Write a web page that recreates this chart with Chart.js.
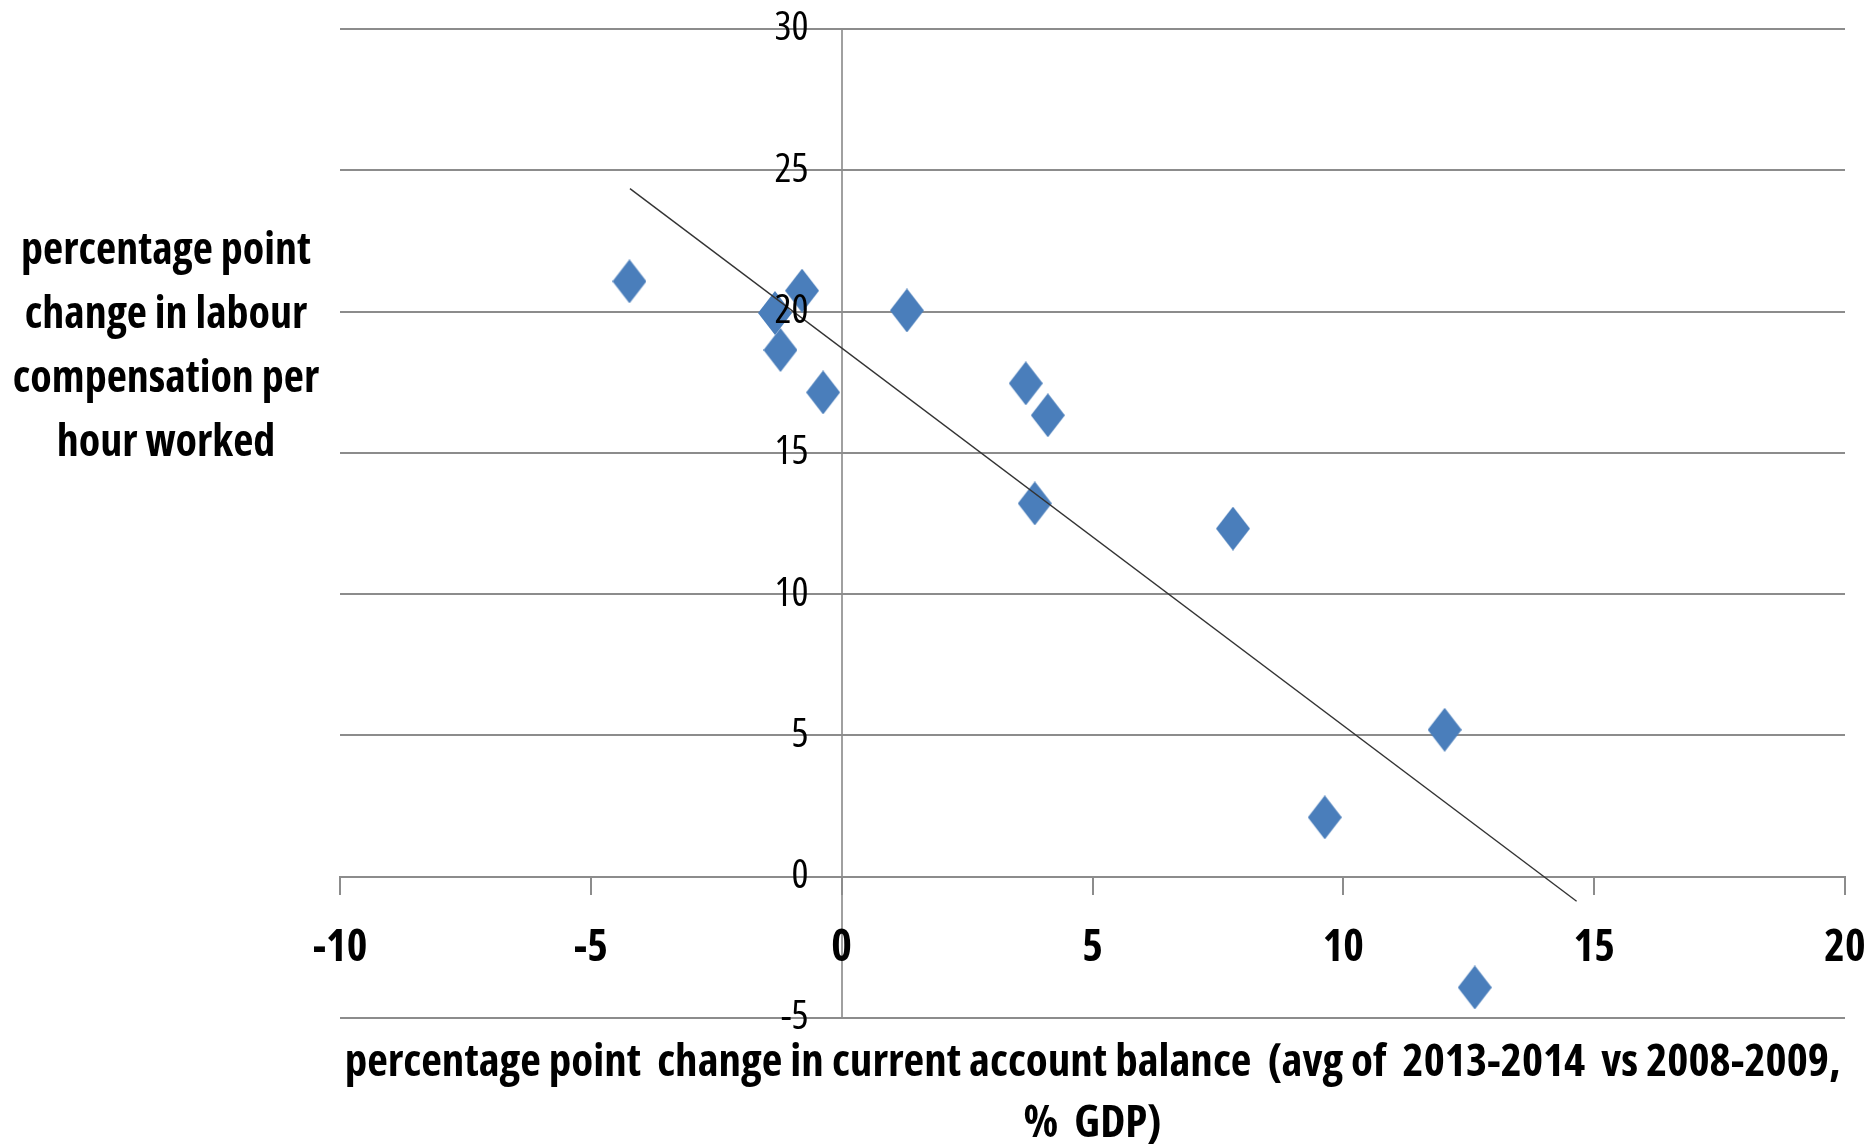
<!DOCTYPE html>
<html>
<head>
<meta charset="utf-8">
<script src="https://cdn.jsdelivr.net/npm/chart.js@4/dist/chart.umd.min.js"></script>
<style>
  body { margin: 0; background: #fff; }
  #grafico { display: block; }
</style>
</head>
<body>
<canvas id="grafico" width="1873" height="1145"></canvas>
<script>
// current account balance change (x) vs labour compensation change (y)
var cabChange = [-4.23, -0.79, -1.33, -1.22, -0.37, 1.30, 3.67, 4.11, 3.85, 7.80, 12.02, 9.63, 12.62];
var labourChange = [21.07, 20.74, 19.95, 18.64, 17.14, 20.04, 17.46, 16.33, 13.21, 12.32, 5.20, 2.10, -3.92];

// trendline ends
var trendX = [-4.22, 14.65];
var trendY = [24.35, -0.87];

var xTicks = [-10, -5, 0, 5, 10, 15, 20];
var yTicks = [-5, 0, 5, 10, 15, 20, 25, 30];

var yTitle = ['percentage point', 'change in labour', 'compensation per', 'hour worked'];
var xTitle = ['percentage point  change in current account balance  (avg of  2013-2014  vs 2008-2009,', '%  GDP)'];

var fuente = '"Open Sans", "Roboto", sans-serif';
var gris = '#8c8c8c';

function puntos(xs, ys) {
  var out = [];
  for (var i = 0; i < xs.length; i++) out.push({x: xs[i], y: ys[i]});
  return out;
}

// tall diamond marker like the excel one
function diamante(w, h, color) {
  var c = document.createElement('canvas');
  c.width = w; c.height = h;
  var g = c.getContext('2d');
  g.fillStyle = color;
  g.beginPath();
  g.moveTo(w / 2, 0);
  g.lineTo(w, h / 2);
  g.lineTo(w / 2, h);
  g.lineTo(0, h / 2);
  g.closePath();
  g.fill();
  return c;
}

// horizontal y title on the left (chart.js would rotate it)
var tituloY = {
  id: 'tituloY',
  afterDraw: function(chart) {
    var ctx = chart.ctx;
    ctx.save();
    ctx.font = 'bold condensed 44px ' + fuente;
    ctx.fillStyle = '#000';
    ctx.textAlign = 'center';
    ctx.textBaseline = 'middle';
    for (var i = 0; i < yTitle.length; i++) {
      ctx.fillText(yTitle[i], 166, 251 + i * 64);
    }
    ctx.restore();
  }
};

var ctx = document.getElementById('grafico').getContext('2d');
var grafico = new Chart(ctx, {
  type: 'scatter',
  data: {
    datasets: [{
      label: 'countries',
      data: puntos(cabChange, labourChange),
      pointStyle: diamante(34, 44, '#4A7EBB'),
      backgroundColor: '#4A7EBB',
      order: 2
    }, {
      label: 'trend',
      type: 'line',
      data: puntos(trendX, trendY),
      borderColor: '#333',
      borderWidth: 1.4,
      pointRadius: 0,
      fill: false,
      order: 1
    }]
  },
  plugins: [tituloY],
  options: {
    responsive: false,
    devicePixelRatio: 1,
    animation: false,
    events: [],
    layout: { padding: { left: 340, right: 28, top: 29, bottom: 127 } },
    plugins: {
      legend: { display: false },
      tooltip: { enabled: false }
    },
    scales: {
      x: {
        type: 'linear',
        position: { y: 0 },
        min: -10,
        max: 20,
        afterBuildTicks: function(s) { s.ticks = xTicks.map(function(v) { return {value: v}; }); },
        grid: {
          drawOnChartArea: true,
          drawTicks: true,
          tickLength: 17,
          lineWidth: 2,
          tickColor: gris,
          // only the line at x = 0 shows, as the vertical axis
          color: function(c) { return c.tick && c.tick.value === 0 ? '#a0a0a0' : 'rgba(0,0,0,0)'; }
        },
        border: { color: gris, width: 2 },
        ticks: {
          color: '#000',
          padding: 0,
          maxRotation: 0,
          font: { family: fuente, size: 44, weight: 'bold condensed', lineHeight: 2.49 }
        },
        title: {
          display: true,
          text: xTitle,
          color: '#000',
          font: { family: fuente, size: 45, weight: 'bold condensed', lineHeight: 1.36 },
          padding: { top: 29, bottom: 0 }
        }
      },
      y: {
        type: 'linear',
        position: { x: -0.66 },
        min: -5,
        max: 30,
        afterBuildTicks: function(s) { s.ticks = yTicks.map(function(v) { return {value: v}; }); },
        grid: { drawTicks: false, color: gris, lineWidth: 2 },
        border: { display: false },
        ticks: {
          z: 1,
          color: '#000',
          padding: 0,
          font: { family: fuente, size: 40, weight: 'condensed' }
        }
      }
    }
  }
});
</script>
</body>
</html>
